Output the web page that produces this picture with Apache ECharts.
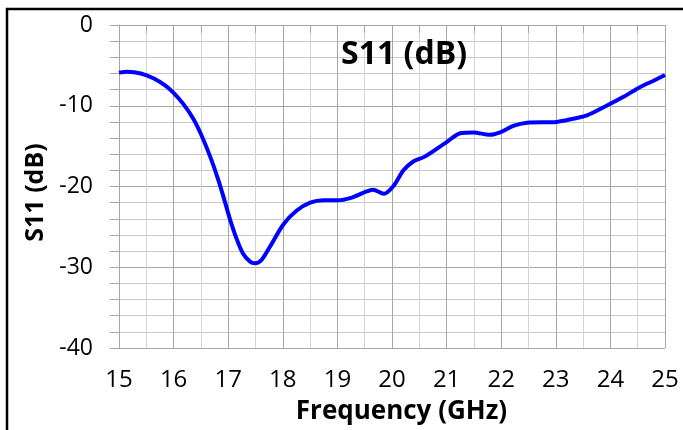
<!DOCTYPE html>
<html><head><meta charset="utf-8">
<script src="https://cdn.jsdelivr.net/npm/echarts@6/dist/echarts.min.js"></script>
<style>html,body{margin:0;padding:0;background:#fff}#c{width:683px;height:430px}</style>
</head><body><div id="c"></div>
<script>
const freqGHz = [15.0,15.15,15.4,15.63,15.85,16.0,16.18,16.36,16.5,16.67,16.82,16.94,17.03,17.15,17.27,17.4,17.49,17.61,17.77,18.01,18.25,18.5,18.75,19.0,19.25,19.5,19.65,19.85,20.02,20.21,20.39,20.6,21.0,21.25,21.49,21.79,21.98,22.22,22.47,23.02,23.32,23.57,23.93,24.24,24.54,24.79,25.0];
const s11dB = [-5.9,-5.8,-6.0,-6.6,-7.5,-8.4,-9.8,-11.6,-13.5,-16.3,-19.2,-21.9,-24.0,-26.4,-28.3,-29.3,-29.5,-29.1,-27.4,-24.7,-23.0,-22.0,-21.7,-21.7,-21.4,-20.7,-20.4,-20.9,-20.0,-18.0,-16.9,-16.3,-14.5,-13.4,-13.3,-13.6,-13.3,-12.5,-12.1,-12.0,-11.6,-11.2,-10.0,-8.9,-7.7,-6.9,-6.2];
const xTickLabels = [15,16,17,18,19,20,21,22,23,24,25];
const yTickLabels = [0,-10,-20,-30,-40];
const titleText = 'S11 (dB)';
const xName = 'Frequency (GHz)';
const yName = 'S11 (dB)';

const FONT = 'Open Sans';
const chart = echarts.init(document.getElementById('c'), null, {renderer:'canvas'});
chart.setOption({
  animation:false,
  backgroundColor:'#fff',
  title:{text:titleText, left:399, top:34, textAlign:'center',
    textStyle:{fontFamily:FONT, fontWeight:'bold', fontSize:32, color:'#000'}},
  graphic:[{type:'rect', shape:{x:7,y:9,width:800,height:600},
    style:{fill:'none', stroke:'#000', lineWidth:2.5}, z:100}],
  grid:{left:119, right:18, top:25, bottom:82},
  xAxis:{type:'value', min:15, max:25, interval:0.5,
    name:xName, nameLocation:'middle', nameGap:51,
    nameTextStyle:{fontFamily:FONT, fontWeight:'bold', fontSize:26, color:'#000', padding:[0,0,0,19]},
    axisLine:{show:true, lineStyle:{color:'#a6a6a6', width:1}},
    axisTick:{show:true, length:8, lineStyle:{color:'#a6a6a6'}},
    axisLabel:{margin:20, fontFamily:FONT, fontSize:24, color:'#000',
      formatter:v => xTickLabels.indexOf(Math.round(v*100)/100) >= 0 ? String(v) : ''},
    splitLine:{show:true, lineStyle:{color:['#a6a6a6','#d4d4d4'], width:1}}},
  yAxis:{type:'value', min:-40, max:0, interval:2,
    name:yName, nameLocation:'middle', nameGap:68, nameRotate:90,
    nameTextStyle:{fontFamily:FONT, fontWeight:'bold', fontSize:25, color:'#000', padding:[0,12,0,0]},
    axisLine:{show:true, lineStyle:{color:'#a6a6a6', width:1}},
    axisTick:{show:true, length:9, lineStyle:{color:'#a6a6a6'}},
    axisLabel:{margin:26, fontFamily:FONT, fontSize:23, color:'#000',
      formatter:v => yTickLabels.indexOf(v) >= 0 ? String(v) : ''},
    splitLine:{show:true, lineStyle:{color:['#a6a6a6','#c8c8c8','#c8c8c8','#c8c8c8','#c8c8c8'], width:1}}},
  series:[{type:'line', data:freqGHz.map((f,i)=>[f,s11dB[i]]), smooth:0.3, showSymbol:false,
    lineStyle:{color:'#0000ff', width:4}, z:5}]
});
</script></body></html>
